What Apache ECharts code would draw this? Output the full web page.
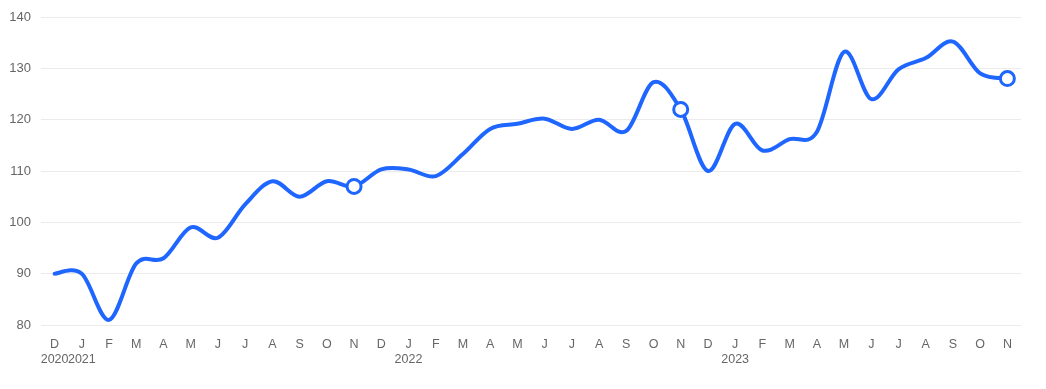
<!DOCTYPE html>
<html>
<head>
<meta charset="utf-8">
<script src="https://cdn.jsdelivr.net/npm/echarts@6/dist/echarts.min.js"></script>
<style>
html,body{margin:0;padding:0;background:#fff;}
#chart{width:1046px;height:389px;}
</style>
</head>
<body>
<div id="chart"></div>
<script>
const months = ['D','J','F','M','A','M','J','J','A','S','O','N',
                'D','J','F','M','A','M','J','J','A','S','O','N',
                'D','J','F','M','A','M','J','J','A','S','O','N'];
const yearLabels = ['2020','2021','','','','','','','','','','',
                    '','2022','','','','','','','','','','',
                    '','2023','','','','','','','','','',''];
const values = [90, 90, 81, 92, 93, 99, 97, 103.5, 108, 105, 108, 107,
                110.3, 110.3, 109, 113.3, 118.2, 119.2, 120.2, 118.2, 120, 117.8, 127.3, 122,
                110, 119.2, 114, 116.2, 117.6, 133.2, 124, 129.8, 132, 135.2, 129, 128];
const markedIndexes = [11, 23, 35];
const yTicks = [80, 90, 100, 110, 120, 130, 140];

const cats = months.map((m, i) => i);
const LINE_COLOR = '#1f66ff';

function renderCurve(params, api) {
  if (params.dataIndex !== 0) return null;
  const pts = values.map((v, i) => api.coord([i, v]));
  const n = pts.length;
  const k = 1 / 6;
  let d = 'M' + pts[0][0] + ' ' + pts[0][1];
  for (let i = 0; i < n - 1; i++) {
    const p0 = pts[Math.max(i - 1, 0)];
    const p1 = pts[i];
    const p2 = pts[i + 1];
    const p3 = pts[Math.min(i + 2, n - 1)];
    const c1x = p1[0] + (p2[0] - p0[0]) * k;
    const c1y = p1[1] + (p2[1] - p0[1]) * k;
    const c2x = p2[0] - (p3[0] - p1[0]) * k;
    const c2y = p2[1] - (p3[1] - p1[1]) * k;
    d += ' C' + c1x + ' ' + c1y + ' ' + c2x + ' ' + c2y + ' ' + p2[0] + ' ' + p2[1];
  }
  return {
    type: 'path',
    shape: {pathData: d},
    style: {fill: null, stroke: LINE_COLOR, lineWidth: 4, lineJoin: 'round', lineCap: 'round'}
  };
}

const chart = echarts.init(document.getElementById('chart'), null, {renderer: 'canvas'});
chart.setOption({
  animation: false,
  grid: {left: 41, right: 25, top: 17, bottom: 64, containLabel: false},
  xAxis: {
    type: 'category',
    data: cats,
    boundaryGap: true,
    axisLine: {show: false},
    axisTick: {show: false},
    axisLabel: {
      interval: 0,
      margin: 12,
      color: '#666',
      fontFamily: 'Liberation Sans, Arial, sans-serif',
      fontSize: 12.5,
      lineHeight: 15,
      formatter: (val, idx) => months[idx] + (yearLabels[idx] ? '\n' + yearLabels[idx] : '')
    }
  },
  yAxis: {
    type: 'value',
    min: yTicks[0],
    max: yTicks[yTicks.length - 1],
    interval: 10,
    axisLine: {show: false},
    axisTick: {show: false},
    axisLabel: {color: '#666', fontSize: 13, margin: 10,
      fontFamily: 'Liberation Sans, Arial, sans-serif'},
    splitLine: {lineStyle: {color: '#ebebeb', width: 1}}
  },
  series: [{
    type: 'custom',
    renderItem: renderCurve,
    data: values.map((v, i) => [i, v]),
    clip: false,
    z: 3
  }, {
    type: 'scatter',
    data: markedIndexes.map(i => [i, values[i]]),
    symbol: 'circle',
    symbolSize: 14,
    itemStyle: {color: '#fff', borderColor: LINE_COLOR, borderWidth: 3, opacity: 1},
    z: 4
  }]
});
</script>
</body>
</html>
